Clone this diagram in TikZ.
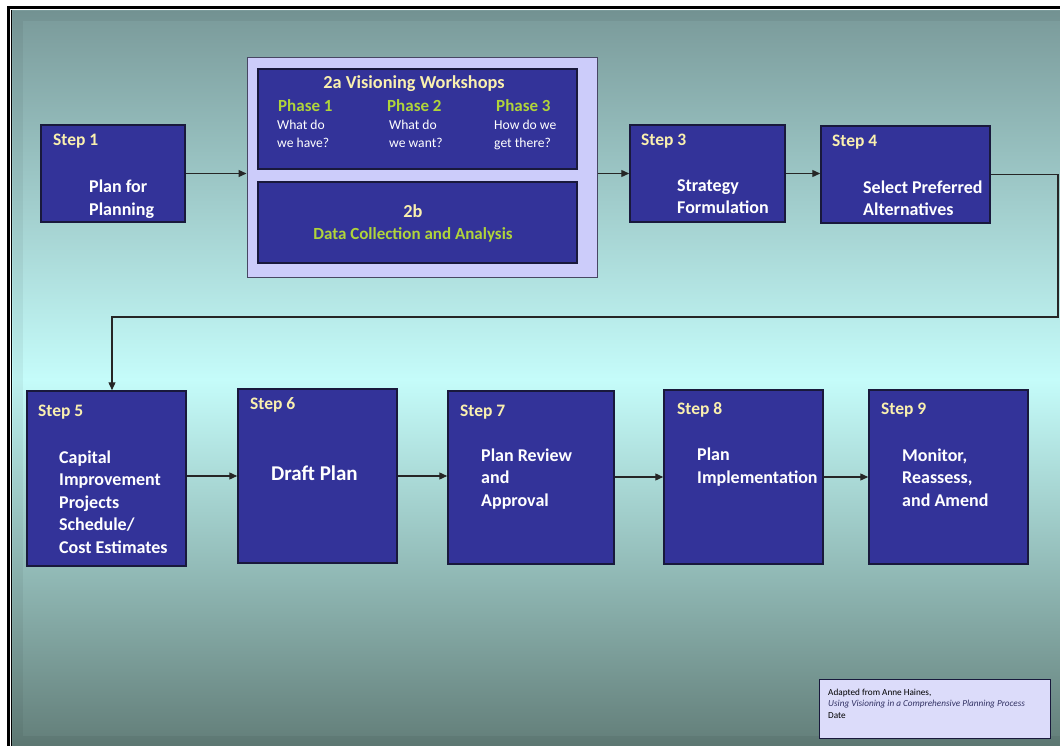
\documentclass[tikz,border=0pt]{standalone}
\usepackage{fontspec}
\setmainfont{Carlito}
\usetikzlibrary{arrows.meta}
\definecolor{boxblue}{RGB}{51,51,153}
\definecolor{boxedge}{RGB}{25,25,60}
\definecolor{labelyellow}{RGB}{250,240,175}
\definecolor{phasegreen}{RGB}{176,212,58}
\definecolor{lavender}{RGB}{204,204,250}
\definecolor{notefill}{RGB}{220,220,250}
\definecolor{noteblue}{RGB}{50,50,100}
\definecolor{bgtop}{RGB}{122,154,154}
\definecolor{bgmid}{RGB}{197,252,250}
\definecolor{bgbottom}{RGB}{98,125,120}

\tikzset{
  stepbox/.style={draw=boxedge, line width=1.5pt, fill=boxblue, inner sep=0pt},
  steplabel/.style={anchor=base west, inner sep=0pt, text=labelyellow, font=\fontsize{17.5}{20}\selectfont\bfseries},
  bodytext/.style={anchor=base west, inner sep=0pt, text=white, align=left, font=\fontsize{18}{22.5}\selectfont\bfseries},
  phaselabel/.style={anchor=base west, inner sep=0pt, text=phasegreen, font=\fontsize{17}{20}\selectfont\bfseries},
  question/.style={anchor=base west, inner sep=0pt, text=white, align=left, font=\fontsize{13.6}{18}\selectfont},
  flow/.style={line width=1.3pt, draw=black!85, -{Triangle[length=8pt,width=7pt]}}
}

\begin{document}
\begin{tikzpicture}[x=1pt, y=-1pt]
  \useasboundingbox (0,0) rectangle (1060,746);
  \fill[white] (0,0) rectangle (1060,746);
  \fill[black] (7,6) rectangle (1080,760);
  \fill[white] (10,9) rectangle (1080,760);
  \fill[black] (11,10) rectangle (1080,760);
  \shade[top color=bgtop, bottom color=bgbottom, middle color=bgmid] (12,11) rectangle (1080,748);
  \foreach \d in {1,...,10} {
    \draw[black, opacity=0.05, line width=1pt] (12+\d,746-\d) -- (12+\d,11+\d) -- (1080,11+\d);
    \draw[black, opacity=0.05, line width=1pt] (12+\d,746-\d) -- (1080,746-\d);
  }

  % top row
  \node[stepbox, minimum width=144pt, minimum height=97pt] (s1) at (113,173.5) {};
  \node[steplabel] (s1lab) at (53,146) {Step 1};
  \node[bodytext] (s1txt) at (89,215) {Plan for\\Planning};

  \node[draw=boxedge!80, line width=1pt, fill=lavender, inner sep=0pt, minimum width=350pt, minimum height=219pt] (b2) at (422,167.5) {};
  \node[stepbox, minimum width=319pt, minimum height=100pt] (b2a) at (417.5,119) {};
  \node[stepbox, minimum width=319pt, minimum height=81pt] (b2b) at (417.5,222.5) {};
  \node[anchor=base, inner sep=0pt, text=labelyellow, font=\fontsize{18.3}{22}\selectfont\bfseries] (b2atitle) at (414,89) {2a Visioning Workshops};
  \node[phaselabel] (ph1) at (278,112) {Phase 1};
  \node[phaselabel] (ph2) at (387,112) {Phase 2};
  \node[phaselabel] (ph3) at (496,112) {Phase 3};
  \node[question] (q1) at (277,148) {What do\\we have?};
  \node[question] (q2) at (389,148) {What do\\we want?};
  \node[question] (q3) at (494,148) {How do we\\get there?};
  \node[anchor=base, inner sep=0pt, text=labelyellow, font=\fontsize{18.3}{22}\selectfont\bfseries] (b2btitle) at (413,218) {2b};
  \node[anchor=base, inner sep=0pt, text=phasegreen, font=\fontsize{17}{20}\selectfont\bfseries] (b2btxt) at (413,240) {Data Collection and Analysis};

  \node[stepbox, minimum width=155pt, minimum height=97pt] (s3) at (707.5,173.5) {};
  \node[steplabel] (s3lab) at (641,146) {Step 3};
  \node[bodytext] (s3txt) at (677,214) {Strategy\\Formulation};

  \node[stepbox, minimum width=169pt, minimum height=97pt] (s4) at (905.5,174.5) {};
  \node[steplabel] (s4lab) at (832,147) {Step 4};
  \node[bodytext] (s4txt) at (863,216) {Select Preferred\\Alternatives};

  % bottom row
  \node[stepbox, minimum width=159pt, minimum height=175pt] (s5) at (106.5,478.5) {};
  \node[steplabel] (s5lab) at (38,416) {Step 5};
  \node[bodytext] (s5txt) at (59,553) {Capital\\Improvement\\Projects\\Schedule/\\Cost Estimates};

  \node[stepbox, minimum width=159pt, minimum height=174pt] (s6) at (317.5,476) {};
  \node[steplabel] (s6lab) at (250,409) {Step 6};
  \node[bodytext, font=\fontsize{21}{25}\selectfont\bfseries] (s6txt) at (271,480) {Draft Plan};

  \node[stepbox, minimum width=166pt, minimum height=173pt] (s7) at (531,477.5) {};
  \node[steplabel] (s7lab) at (460,416) {Step 7};
  \node[bodytext] (s7txt) at (481,506) {Plan Review\\and\\Approval};

  \node[stepbox, minimum width=159pt, minimum height=174pt] (s8) at (743.5,477) {};
  \node[steplabel] (s8lab) at (677,414) {Step 8};
  \node[bodytext] (s8txt) at (697,483) {Plan\\Implementation};

  \node[stepbox, minimum width=159pt, minimum height=174pt] (s9) at (948.5,477) {};
  \node[steplabel] (s9lab) at (881,414) {Step 9};
  \node[bodytext] (s9txt) at (902,506) {Monitor,\\Reassess,\\and Amend};

  \node[draw=boxedge, line width=1pt, fill=notefill, inner sep=0pt, minimum width=231pt, minimum height=59pt] (note) at (934.5,708.5) {};
  \node[anchor=base west, inner sep=0pt, align=left, font=\fontsize{9.2}{11.5}\selectfont] (notetxt) at (828,718) {Adapted from Anne Haines,\\\textcolor{noteblue}{\itshape Using Visioning in a Comprehensive Planning Process}\\Date};

  % connectors
  \coordinate (bendR) at (1058,317);
  \coordinate (bendL) at (112,317);
  \draw[flow] (s1.east) -- (s1.east -| b2.west);
  \draw[flow] (b2.east |- s3.west) -- (s3.west);
  \draw[flow] (s3.east) -- (s3.east -| s4.west);
  \draw[flow] (s4.east) -| (bendR) -- (bendL) -- (bendL |- s5.north);
  \draw[flow] (s5.east |- s6.east) -- (s6.west);
  \draw[flow] (s6.east) -- (s6.east -| s7.west);
  \draw[flow] (s7.east |- s8.west) -- (s8.west);
  \draw[flow] (s8.east) -- (s8.east -| s9.west);
\end{tikzpicture}
\end{document}
